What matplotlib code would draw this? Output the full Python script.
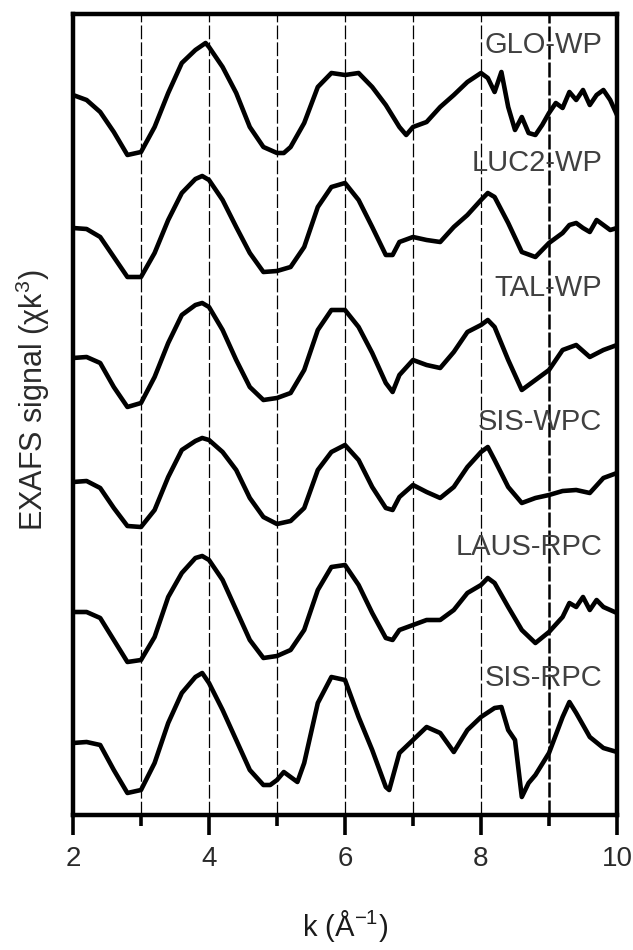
import matplotlib
matplotlib.use("Agg")
import matplotlib.pyplot as plt

plt.rcParams.update({
    "font.family": ["Liberation Sans", "DejaVu Sans"],
    "mathtext.fontset": "custom",
    "mathtext.rm": "Liberation Sans",
    "font.size": 20,
})

# spectra: k (1/A) and vertically offset EXAFS signal (plot units, top = 14, bottom = 815)
GLO_K = [2.0, 2.2, 2.4, 2.6, 2.8, 3.0, 3.2, 3.4, 3.6, 3.8, 3.95, 4.0, 4.2, 4.4, 4.6,
         4.8, 5.0, 5.1, 5.2, 5.4, 5.6, 5.8, 6.0, 6.2, 6.4, 6.6, 6.8, 6.9, 7.0, 7.2,
         7.4, 7.6, 7.8, 8.0, 8.1, 8.2, 8.3, 8.4, 8.5, 8.6, 8.7, 8.8, 8.9, 9.0, 9.1,
         9.2, 9.3, 9.4, 9.5, 9.6, 9.7, 9.8, 9.9, 10.0]
GLO_Y = [95, 100, 112, 132, 155, 152, 127, 93, 63, 50, 43, 47, 67, 93, 127,
         147, 153, 153, 147, 123, 87, 73, 75, 73, 87, 105, 127, 135, 127, 122,
         107, 95, 82, 73, 78, 92, 72, 107, 130, 117, 133, 135, 125, 113, 103,
         108, 92, 100, 90, 105, 95, 90, 100, 115]

LUC2_K = [2.0, 2.2, 2.4, 2.6, 2.8, 3.0, 3.2, 3.4, 3.6, 3.8, 3.9, 4.0, 4.2, 4.4, 4.6,
          4.8, 5.0, 5.2, 5.4, 5.6, 5.8, 6.0, 6.2, 6.4, 6.6, 6.7, 6.8, 7.0, 7.2, 7.4,
          7.6, 7.8, 8.0, 8.1, 8.2, 8.4, 8.6, 8.8, 9.0, 9.1, 9.2, 9.3, 9.4, 9.5, 9.6,
          9.7, 9.8, 9.9, 10.0]
LUC2_Y = [228, 229, 237, 257, 277, 277, 253, 220, 193, 179, 176, 180, 200, 227, 253,
          272, 271, 267, 247, 207, 187, 183, 200, 227, 255, 255, 242, 237, 240, 242,
          227, 215, 200, 193, 197, 223, 252, 257, 243, 238, 233, 225, 223, 228, 232,
          220, 225, 230, 228]

TAL_K = [2.0, 2.2, 2.4, 2.6, 2.8, 3.0, 3.2, 3.4, 3.6, 3.8, 3.9, 4.0, 4.2, 4.4, 4.6,
         4.8, 5.0, 5.2, 5.4, 5.6, 5.8, 6.0, 6.2, 6.4, 6.6, 6.7, 6.8, 7.0, 7.2, 7.4,
         7.6, 7.8, 8.0, 8.1, 8.2, 8.4, 8.6, 8.8, 9.0, 9.2, 9.4, 9.6, 9.8, 10.0]
TAL_Y = [358, 357, 363, 387, 407, 403, 377, 343, 315, 305, 303, 307, 330, 360, 387,
         400, 398, 393, 370, 330, 310, 310, 327, 353, 383, 392, 375, 360, 365, 368,
         352, 332, 325, 320, 327, 360, 390, 380, 370, 350, 345, 357, 350, 345]

SISW_K = [2.0, 2.2, 2.4, 2.6, 2.8, 3.0, 3.2, 3.4, 3.6, 3.8, 3.9, 4.0, 4.2, 4.4, 4.6,
          4.8, 5.0, 5.2, 5.4, 5.6, 5.8, 6.0, 6.2, 6.4, 6.6, 6.7, 6.8, 7.0, 7.2, 7.4,
          7.6, 7.8, 8.0, 8.1, 8.2, 8.4, 8.6, 8.8, 9.0, 9.2, 9.4, 9.6, 9.8, 10.0]
SISW_Y = [482, 481, 488, 508, 526, 527, 510, 477, 450, 441, 438, 440, 452, 470, 498,
          517, 524, 521, 508, 470, 452, 445, 460, 487, 508, 510, 497, 485, 492, 498,
          487, 467, 452, 447, 460, 487, 503, 498, 495, 491, 490, 493, 478, 473]

LAUS_K = [2.0, 2.2, 2.4, 2.6, 2.8, 3.0, 3.2, 3.4, 3.6, 3.8, 3.9, 4.0, 4.2, 4.4, 4.6,
          4.8, 5.0, 5.2, 5.4, 5.6, 5.8, 6.0, 6.2, 6.4, 6.6, 6.7, 6.8, 7.0, 7.2, 7.4,
          7.6, 7.8, 8.0, 8.1, 8.2, 8.4, 8.6, 8.8, 9.0, 9.2, 9.3, 9.4, 9.5, 9.6, 9.7,
          9.8, 10.0]
LAUS_Y = [612, 612, 618, 640, 662, 660, 637, 597, 573, 558, 556, 560, 580, 610, 640,
          658, 656, 650, 630, 590, 567, 565, 585, 613, 638, 640, 630, 625, 620, 620,
          610, 593, 585, 578, 583, 607, 630, 643, 632, 617, 603, 607, 597, 610, 600,
          607, 613]

SISR_K = [2.0, 2.2, 2.4, 2.6, 2.8, 3.0, 3.2, 3.4, 3.6, 3.8, 3.9, 4.0, 4.2, 4.4, 4.6,
          4.8, 4.9, 5.0, 5.1, 5.2, 5.3, 5.4, 5.6, 5.8, 6.0, 6.2, 6.4, 6.6, 6.65, 6.8,
          7.0, 7.2, 7.4, 7.6, 7.8, 8.0, 8.2, 8.3, 8.4, 8.5, 8.6, 8.7, 8.8, 9.0, 9.2,
          9.3, 9.4, 9.6, 9.8, 10.0]
SISR_Y = [743, 742, 745, 770, 793, 790, 763, 723, 693, 677, 673, 683, 710, 740, 770,
          785, 785, 780, 772, 777, 782, 763, 703, 677, 680, 717, 750, 787, 790, 753,
          740, 727, 733, 752, 730, 717, 708, 707, 730, 740, 797, 783, 775, 753, 717,
          702, 713, 737, 748, 752]

NAMES = ["GLO-WP", "LUC2-WP", "TAL-WP", "SIS-WPC", "LAUS-RPC", "SIS-RPC"]
SERIES = [(GLO_K, GLO_Y), (LUC2_K, LUC2_Y), (TAL_K, TAL_Y),
          (SISW_K, SISW_Y), (LAUS_K, LAUS_Y), (SISR_K, SISR_Y)]
LABEL_Y = [45, 163, 288, 422, 547, 678]

fig = plt.figure(figsize=(6.33, 9.5), dpi=100)
ax = fig.add_axes([73 / 633, 1 - 815 / 950, 544 / 633, 801 / 950])

# dashed guide lines
for k in [3, 4, 5, 6, 7, 8]:
    ax.axvline(k, color="k", lw=0.9, ls=(0, (11, 2.5)), zorder=1)
ax.axvline(9, color="k", lw=1.8, ls=(0, (6, 1.2)), zorder=1)

for (kk, yy), name, ly in zip(SERIES, NAMES, LABEL_Y):
    ax.plot(kk, yy, color="k", lw=3.3, solid_joinstyle="round",
            solid_capstyle="round", zorder=3)
    ax.text(9.78, ly, name, ha="right", va="center", fontsize=21, color="#404040", zorder=2)

ax.set_xlim(2, 10)
ax.set_ylim(815, 14)
ax.set_yticks([])
ax.set_xticks([2, 4, 6, 8, 10])
ax.set_xticks([3, 5, 7, 9], minor=True)
ax.tick_params(axis="x", which="major", direction="out", length=14.5, width=2.6,
               pad=8, labelsize=20, labelcolor="#2a2a2a")
ax.tick_params(axis="x", which="minor", direction="out", length=8, width=2.6)
for s in ax.spines.values():
    s.set_linewidth(3.2)

ax.set_xlabel(r"k (Å$\mathregular{^{-1}}$)", fontsize=21, color="#1a1a1a", labelpad=26)
fig.text(33 / 633, 1 - 400 / 950, r"EXAFS signal (χk$\mathregular{^{3}}$)",
         rotation=90, ha="center", va="center", fontsize=22, color="#2a2a2a")

fig.savefig("out.png", dpi=100)
